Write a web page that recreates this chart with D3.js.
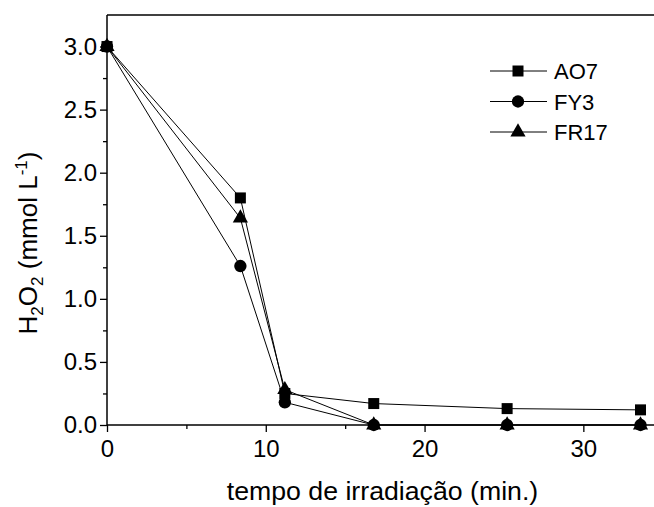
<!DOCTYPE html>
<html>
<head>
<meta charset="utf-8">
<script src="https://cdn.jsdelivr.net/npm/d3@7"></script>
<style>
  body { margin: 0; background: #fff; }
  svg { display: block; font-family: "Liberation Sans", Arial, sans-serif; }
</style>
</head>
<body>
<div id="chart"></div>
<script>
const times = [0, 8.4, 11.2, 16.8, 25.2, 33.6];
const ao7 = [3.0, 1.80, 0.25, 0.17, 0.13, 0.12];
const fy3 = [3.0, 1.26, 0.18, 0.0, 0.0, 0.0];
const fr17 = [3.0, 1.64, 0.28, 0.0, 0.0, 0.0];
const seriesNames = ["AO7", "FY3", "FR17"];
const xTicks = [0, 10, 20, 30];
const yTicks = [0, 0.5, 1.0, 1.5, 2.0, 2.5, 3.0];

const W = 654, H = 507;
const margin = {top: 15, right: 0, bottom: 82, left: 107};

const svg = d3.select("#chart").append("svg")
    .attr("width", W).attr("height", H);

const x = d3.scaleLinear().domain([0, 34.45]).range([margin.left, W - margin.right]);
const y = d3.scaleLinear().domain([0, 3.25]).range([H - margin.bottom, margin.top]);

const series = [
    {name: seriesNames[0], values: ao7, symbol: d3.symbolSquare, size: 121},
    {name: seriesNames[1], values: fy3, symbol: d3.symbolCircle, size: 120},
    {name: seriesNames[2], values: fr17, symbol: d3.symbolTriangle, size: 100}
];

// linha de cima
svg.append("line")
    .attr("x1", x(0)).attr("x2", W)
    .attr("y1", margin.top).attr("y2", margin.top)
    .attr("stroke", "#000").attr("stroke-width", 1.5);

// eixo x
const xAxis = svg.append("g")
    .attr("transform", `translate(0,${y(0)})`)
    .call(d3.axisBottom(x).tickValues(xTicks).tickSize(7).tickPadding(8).tickFormat(d3.format("d")));
svg.append("g")
    .attr("transform", `translate(0,${y(0)})`)
    .call(d3.axisBottom(x).tickValues([5, 15, 25]).tickSize(4).tickFormat(""))
    .call(g => g.select(".domain").remove());

// eixo y
const yAxis = svg.append("g")
    .attr("transform", `translate(${x(0)},0)`)
    .call(d3.axisLeft(y).tickValues(yTicks).tickSize(7).tickPadding(3).tickFormat(d3.format(".1f")));
svg.append("g")
    .attr("transform", `translate(${x(0)},0)`)
    .call(d3.axisLeft(y).tickValues([0.25, 0.75, 1.25, 1.75, 2.25, 2.75]).tickSize(4).tickFormat(""))
    .call(g => g.select(".domain").remove());

svg.selectAll(".domain").attr("stroke-width", 1.5);
xAxis.select(".domain").attr("d", `M${x(0)},0H${W}`);
yAxis.select(".domain").attr("d", `M0,${margin.top}V${y(0)}`);
svg.selectAll(".tick line").attr("stroke-width", 1.3);
svg.selectAll(".tick text").attr("font-size", 24).attr("fill", "#000")
    .attr("font-family", "Liberation Sans, Arial, sans-serif");

// dados
const line = d3.line().x((d, i) => x(times[i])).y(d => y(d));
series.forEach(s => {
    svg.append("path")
        .datum(s.values)
        .attr("fill", "none")
        .attr("stroke", "#000")
        .attr("stroke-width", 1)
        .attr("d", line);
});
series.forEach(s => {
    svg.selectAll(null)
        .data(s.values).enter()
        .append("path")
        .attr("d", d3.symbol().type(s.symbol).size(s.size))
        .attr("transform", (d, i) => `translate(${x(times[i])},${y(d)})`)
        .attr("fill", "#000");
});

// legenda
const legend = svg.append("g");
series.forEach((s, i) => {
    const ly = 71 + i * 30.5;
    legend.append("line")
        .attr("x1", 490).attr("x2", 547).attr("y1", ly).attr("y2", ly)
        .attr("stroke", "#000").attr("stroke-width", 1);
    legend.append("path")
        .attr("d", d3.symbol().type(s.symbol).size(s.size))
        .attr("transform", `translate(518,${ly})`)
        .attr("fill", "#000");
    legend.append("text")
        .attr("x", 554).attr("y", ly + 8)
        .attr("font-size", 22)
        .text(s.name);
});

// titulos
svg.append("text")
    .attr("x", (x(0) + W) / 2 + 2).attr("y", 500)
    .attr("text-anchor", "middle")
    .attr("font-size", 26.7)
    .text("tempo de irradiação (min.)");

const yt = svg.append("text")
    .attr("transform", "translate(37,243) rotate(-90)")
    .attr("text-anchor", "middle")
    .attr("font-size", 26);
yt.append("tspan").text("H");
yt.append("tspan").attr("font-size", 17).attr("dy", 6).text("2");
yt.append("tspan").attr("dy", -6).text("O");
yt.append("tspan").attr("font-size", 17).attr("dy", 6).text("2");
yt.append("tspan").attr("dy", -6).text(" (mmol L");
yt.append("tspan").attr("font-size", 17).attr("dy", -10).text("-1");
yt.append("tspan").attr("dy", 10).text(")");
</script>
</body>
</html>
